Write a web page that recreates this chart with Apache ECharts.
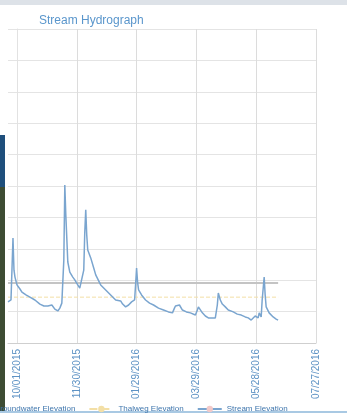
<!DOCTYPE html>
<html><head><meta charset="utf-8">
<script src="https://cdn.jsdelivr.net/npm/echarts@6/dist/echarts.min.js"></script>
<style>html,body{margin:0;padding:0;background:#fff;}#c{width:347px;height:419px;}</style>
</head><body><div id="c"></div>
<script>
// days from 10/01/2015
var streamDays = [-9,-7,-6,-4,-3,-2,0,3,5,9,13,18,23,27,31,35,38,41,43,45,47,48,49,51,53,56,58,61,63,65,67,68,69,70,71,74,77,79,84,89,94,99,104,106,109,112,115,118,119,120,121,122,125,129,133,137,142,147,152,156,158,159,161,163,166,170,174,179,181,182,184,186,189,192,196,199,201,202,204,206,209,212,217,221,225,229,232,235,237,239,240,242,243,245,246,248,249,250,253,257,260,262];
var streamValues = [1.31,1.31,1.37,3.34,2.32,2.10,1.85,1.72,1.62,1.53,1.46,1.37,1.24,1.18,1.18,1.21,1.08,1.02,1.11,1.27,2.64,5.03,4.08,2.58,2.26,2.10,2.01,1.85,1.75,1.69,2.32,3.50,4.24,3.44,2.96,2.71,2.39,2.17,1.85,1.69,1.53,1.37,1.34,1.24,1.15,1.21,1.31,1.37,1.85,2.39,1.94,1.69,1.53,1.37,1.27,1.21,1.11,1.05,0.99,0.96,1.11,1.18,1.15,1.21,1.05,0.99,0.96,0.89,1.05,1.15,1.21,0.96,0.86,0.80,0.80,0.80,1.21,1.59,1.37,1.24,1.15,1.05,0.99,0.92,0.89,0.83,0.80,0.73,0.70,0.86,0.89,0.80,0.96,0.83,1.37,2.10,1.53,1.15,0.96,0.83,0.76,0.73];
var groundDays = [-9, 262];
var groundValues = [1.91, 1.91];
var thalwegDays = [-9, 262];
var thalwegValues = [1.46, 1.46];
var tickDays = [0, 60, 120, 180, 240, 300];
var seriesNames = ['Groundwater Elevation', 'Thalweg Elevation', 'Stream Elevation'];
var titleText = 'Stream Hydrograph';

function zip(a, b) { return a.map(function (v, i) { return [v, b[i]]; }); }
function fmt(d) {
  var t = new Date(Date.UTC(2015, 9, 1) + d * 86400000);
  var m = t.getUTCMonth() + 1, dd = t.getUTCDate();
  return (m < 10 ? '0' : '') + m + '/' + (dd < 10 ? '0' : '') + dd + '/' + t.getUTCFullYear();
}
var chart = echarts.init(document.getElementById('c'), null, {renderer: 'canvas'});
chart.setOption({
  animation: false,
  backgroundColor: '#fff',
  title: {text: titleText, left: 34, top: 10, textStyle: {fontSize: 12, fontWeight: 'normal', color: '#5a96cc', fontFamily: 'Liberation Sans'}},
  legend: {
    left: -41, top: 400, itemWidth: 24, itemHeight: 8, itemGap: 13,
    textStyle: {fontSize: 8, color: '#3f76ad', fontFamily: 'Liberation Sans'},
    data: seriesNames
  },
  grid: {left: 8, right: 31, top: 29, bottom: 76},
  xAxis: {
    type: 'value', min: -9, max: 300,
    axisLine: {show: true, lineStyle: {color: '#cfcfcf'}},
    axisTick: {show: false, customValues: tickDays},
    splitLine: {show: true, customValues: tickDays, lineStyle: {color: '#dcdcdc'}},
    axisLabel: {customValues: tickDays, rotate: 90, fontSize: 10, color: '#5d92c4', margin: 6, fontFamily: 'Liberation Sans', formatter: function (v) { return fmt(v); }}
  },
  yAxis: {
    type: 'value', min: 0, max: 10, interval: 1,
    axisLine: {show: true, lineStyle: {color: '#e2e2e2'}},
    axisTick: {show: false}, axisLabel: {show: false},
    splitLine: {lineStyle: {color: '#e4e4e4'}}
  },
  series: [
    {name: seriesNames[0], type: 'line', data: zip(groundDays, groundValues), symbol: 'none', lineStyle: {color: '#c4c4c4', width: 2}, itemStyle: {color: '#c4c4c4'}},
    {name: seriesNames[1], type: 'line', data: zip(thalwegDays, thalwegValues), symbol: 'none', lineStyle: {color: '#f3dfa6', width: 1, type: 'dashed'}, itemStyle: {color: '#f3dfa6'}},
    {name: seriesNames[2], type: 'line', data: zip(streamDays, streamValues), symbol: 'none', lineStyle: {color: '#7aa5cf', width: 1.5}, itemStyle: {color: '#f2c9c9'}}
  ],
  graphic: [
    {type: 'rect', shape: {x: 0, y: 0, width: 347, height: 5}, style: {fill: '#dde2e8'}, silent: true},
    {type: 'rect', shape: {x: 0, y: 411, width: 347, height: 2}, style: {fill: '#a9c9e3'}, silent: true},
    {type: 'rect', shape: {x: 0, y: 135, width: 5, height: 52}, style: {fill: '#1f4f7c'}, silent: true},
    {type: 'rect', shape: {x: 0, y: 187, width: 5, height: 224}, style: {fill: '#3d4c33'}, silent: true}
  ]
});
</script>
</body></html>
